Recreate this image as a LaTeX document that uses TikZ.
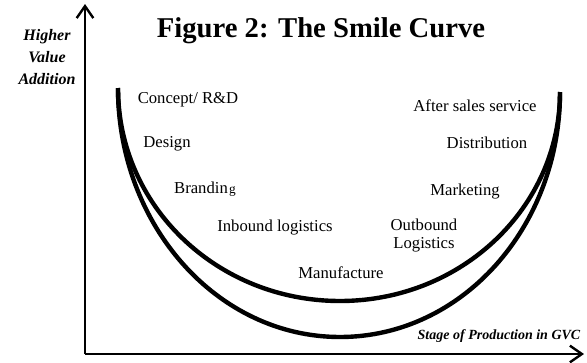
\documentclass[tikz,border=0pt]{standalone}
\usepackage{fontspec}
\setmainfont{Liberation Serif}
\usepackage{tikz}
\usetikzlibrary{positioning}
\usetikzlibrary{calc}
\usetikzlibrary{arrows.meta}

\begin{document}
\begin{tikzpicture} [
    x=0.75pt, y=-0.75pt,           % pixel grid, y grows downwards
    ]
% -------------------------------------------------
\tikzset{
  base/.style={inner sep=0pt, anchor=base},
  stage/.style={base, font=\fontsize{12.5}{13.5}\selectfont, align=center},
  axistext/.style={inner sep=0pt, font=\fontsize{12}{16.5}\selectfont\bfseries\itshape, align=center},
  heading/.style={base, font=\fontsize{21.5}{24}\selectfont\bfseries},
  axis/.style={draw, line width=2pt, -{Straight Barb[length=9pt, width=12.5pt, line width=1.8pt]}},
  smile/.style={draw, line width=3.3pt},
}
    \useasboundingbox (0,0) rectangle (587,362);

    % axes
    \coordinate (origin) at (85,354);
    \coordinate (ytip) at (85,4);
    \coordinate (xtip) at (584,354);
    \path [axis] (origin) -- (ytip);
    \path [axis] (origin) -- (xtip);

    \node [axistext] (yname) at (47,57) {Higher\\Value\\Addition};
    \node [axistext, anchor=base] (xname) at (499,339) {\fontsize{10.5}{12}\selectfont Stage of Production in GVC};
    \node [heading] (title) at (321,37) {Figure 2: The Smile Curve};

    % the two smile curves
    \coordinate (left) at (118,88);
    \coordinate (right) at (560,92);
    \coordinate (outer) at (340,337);
    \coordinate (inner) at (340,301);
    \path [smile] (left) .. controls (118,225) and (217,337) .. (outer)
                         .. controls (462,337) and (560,227) .. (right);
    \path [smile] (left) .. controls (118,206) and (217,301) .. (inner)
                         .. controls (462,301) and (560,207) .. (right);

    % stages, left arm
    \node [stage] (concept) at (188,103) {Concept/ R\&D};
    \node [stage] (design) at (167,147) {Design};
    \node [stage] (branding) at (205,193) {Brandin\kern1pt{\fontsize{10}{12}\selectfont g}};
    \node [stage] (inbound) at (275,231) {Inbound logistics};
    \node [stage] (manufacture) at (341,278) {Manufacture};
    % stages, right arm
    \node [stage] (outbound) at (424,248) {Outbound\\Logistics};
    \node [stage] (marketing) at (465,195) {Marketing};
    \node [stage] (distribution) at (487,148) {Distribution};
    \node [stage] (aftersales) at (475,111) {After sales service};

\end{tikzpicture}
\end{document}
